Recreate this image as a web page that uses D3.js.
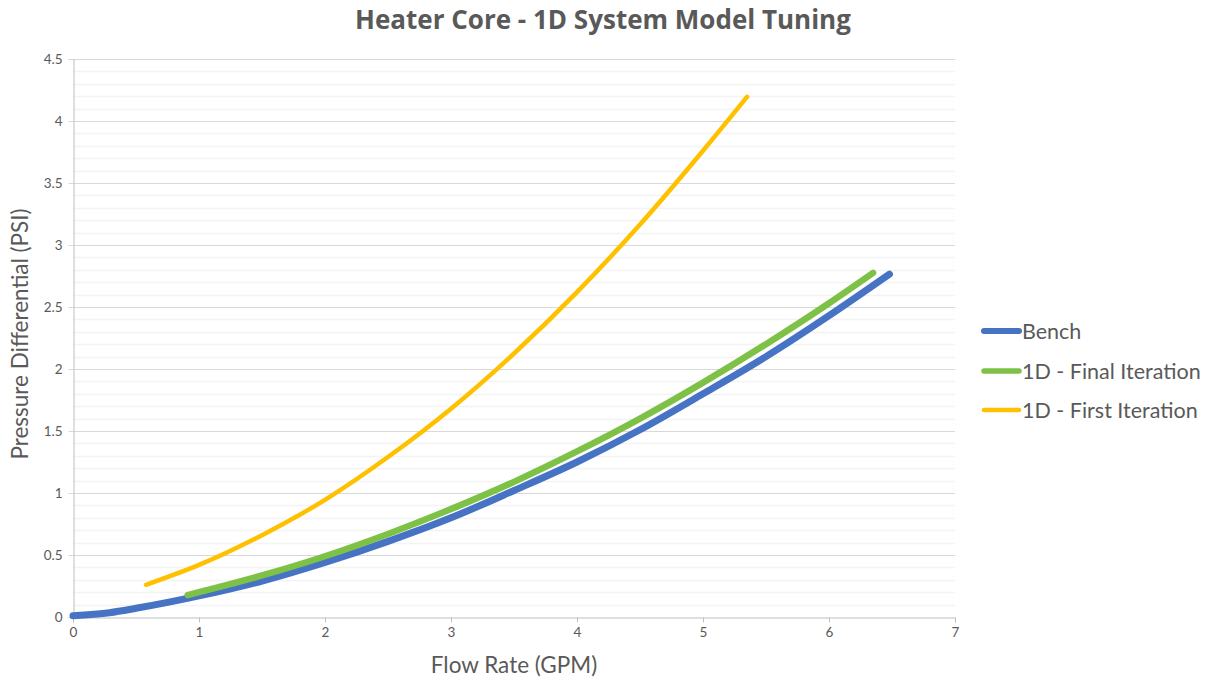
<!DOCTYPE html>
<html>
<head>
<meta charset="utf-8">
<script src="https://cdn.jsdelivr.net/npm/d3@7"></script>
<style>
  html, body { margin: 0; padding: 0; background: #ffffff; }
  svg { display: block; }
</style>
</head>
<body>
<svg id="chart" width="1217" height="685"></svg>
<script>
// ---- data ----
const seriesNames = ["Bench", "1D - Final Iteration", "1D - First Iteration"];
const seriesColors = ["#4673c4", "#7dc247", "#ffc000"];

const benchX = [0, 0.29, 0.5, 1, 1.5, 2, 2.5, 3, 3.5, 4, 4.5, 5, 5.5, 6, 6.48];
const benchY = [0.01, 0.035, 0.07, 0.17, 0.29, 0.44, 0.61, 0.80, 1.02, 1.25, 1.51, 1.80, 2.10, 2.43, 2.765];

const finalX = [0.91, 1, 1.5, 2, 2.5, 3, 3.5, 4, 4.5, 5, 5.5, 6, 6.35];
const finalY = [0.177, 0.20, 0.335, 0.49, 0.67, 0.87, 1.09, 1.335, 1.60, 1.89, 2.20, 2.53, 2.775];

const firstX = [0.58, 1, 1.5, 2, 2.5, 3, 3.5, 4, 4.5, 5, 5.35];
const firstY = [0.26, 0.42, 0.66, 0.945, 1.29, 1.68, 2.125, 2.62, 3.165, 3.76, 4.195];

const xTicks = [0, 1, 2, 3, 4, 5, 6, 7];
const yTicks = [0, 0.5, 1, 1.5, 2, 2.5, 3, 3.5, 4, 4.5];
const yMinorTicks = d3.range(0, 45).map(i => i / 10);

const titleText = "Heater Core - 1D System Model Tuning";
const xLabel = "Flow Rate (GPM)";
const yLabel = "Pressure Differential (PSI)";

// ---- layout ----
const svg = d3.select("#chart");
const plotLeft = 73, plotRight = 955, plotTop = 59, plotBottom = 617;
const textColor = "#595959";
const font = "Lato, 'Open Sans', sans-serif";

const x = d3.scaleLinear().domain([0, 7]).range([plotLeft, plotRight]);
const y = d3.scaleLinear().domain([0, 4.5]).range([plotBottom, plotTop]);

// minor gridlines
svg.append("g").selectAll("line").data(yMinorTicks.filter(v => Math.abs(v * 2 - Math.round(v * 2)) > 1e-6))
  .join("line")
  .attr("x1", plotLeft).attr("x2", plotRight)
  .attr("y1", d => Math.round(y(d)) + 0.5).attr("y2", d => Math.round(y(d)) + 0.5)
  .attr("stroke", "#f3f3f3").attr("stroke-width", 1.5);

// major gridlines
svg.append("g").selectAll("line").data(yTicks.filter(v => v > 0))
  .join("line")
  .attr("x1", plotLeft).attr("x2", plotRight)
  .attr("y1", d => Math.round(y(d)) + 0.5).attr("y2", d => Math.round(y(d)) + 0.5)
  .attr("stroke", "#d9d9d9").attr("stroke-width", 1);

// axes
const xAxis = d3.axisBottom(x).tickValues(xTicks).tickSize(5).tickPadding(5).tickFormat(d3.format("d"));
const gx = svg.append("g").attr("transform", `translate(0,${plotBottom + 0.5})`).call(xAxis);
gx.select(".domain").attr("stroke", "#bfbfbf");
gx.selectAll(".tick line").attr("stroke", "#bfbfbf");
gx.selectAll("text").attr("fill", textColor).style("font-family", font).style("font-size", "13.5px");

const yAxis = d3.axisLeft(y).tickValues(yTicks).tickSize(5).tickPadding(6).tickFormat(d => String(d));
const gy = svg.append("g").attr("transform", `translate(${plotLeft + 0.5},0)`).call(yAxis);
gy.select(".domain").attr("stroke", "#bfbfbf");
gy.selectAll(".tick line").attr("stroke", "#d9d9d9");
gy.selectAll("text").attr("fill", textColor).style("font-family", font).style("font-size", "13.5px");

// lines
const line = d3.line().x(d => x(d[0])).y(d => y(d[1])).curve(d3.curveMonotoneX);
const series = [
  { name: seriesNames[0], color: seriesColors[0], w: 7, pts: d3.zip(benchX, benchY) },
  { name: seriesNames[1], color: seriesColors[1], w: 6.5, pts: d3.zip(finalX, finalY) },
  { name: seriesNames[2], color: seriesColors[2], w: 4.5, pts: d3.zip(firstX, firstY) }
];
svg.append("g").selectAll("path").data(series).join("path")
  .attr("d", d => line(d.pts))
  .attr("fill", "none")
  .attr("stroke", d => d.color)
  .attr("stroke-width", d => d.w)
  .attr("stroke-linecap", "round")
  .attr("stroke-linejoin", "round");

// title
svg.append("text").attr("x", 603).attr("y", 29)
  .attr("text-anchor", "middle")
  .attr("fill", textColor)
  .style("font-family", "'Open Sans', Lato, sans-serif")
  .style("font-weight", "bold").style("font-size", "26px")
  .text(titleText);

// axis titles
svg.append("text").attr("x", 514).attr("y", 673)
  .attr("text-anchor", "middle").attr("fill", textColor)
  .style("font-family", font).style("font-size", "22.5px")
  .text(xLabel);
svg.append("text").attr("transform", "translate(28,334) rotate(-90)")
  .attr("text-anchor", "middle").attr("fill", textColor)
  .style("font-family", font).style("font-size", "22.5px")
  .text(yLabel);

// legend
const legendY = [331, 371, 410];
const lg = svg.append("g").selectAll("g").data(series).join("g")
  .attr("transform", (d, i) => `translate(984,${legendY[i]})`);
lg.append("line").attr("x1", 0).attr("x2", 35).attr("y1", 0).attr("y2", 0)
  .attr("stroke", d => d.color).attr("stroke-width", (d, i) => [6, 5.5, 4.5][i])
  .attr("stroke-linecap", "round");
lg.append("text").attr("x", 38).attr("y", 0).attr("dy", "0.35em")
  .attr("fill", textColor)
  .style("font-family", font).style("font-size", "21.5px")
  .text(d => d.name);
</script>
</body>
</html>
